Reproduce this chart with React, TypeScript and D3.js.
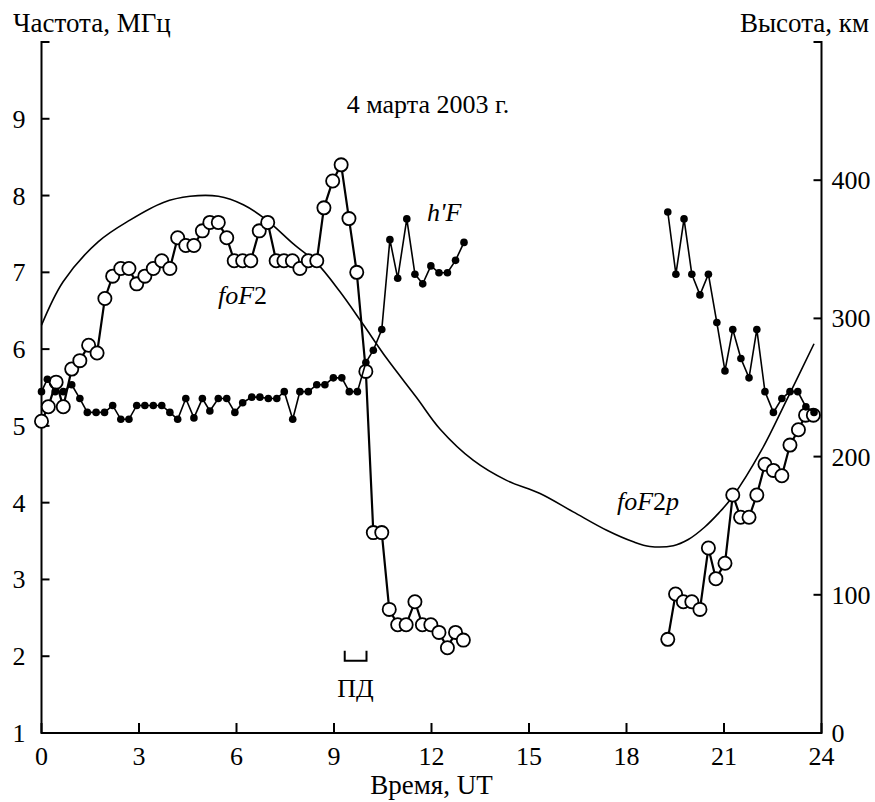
import * as d3 from "d3"

// foF2, first part of the day (UT hours, MHz)
const fof2HoursA = [0, 0.21, 0.45, 0.67, 0.93, 1.18, 1.45, 1.71, 1.95, 2.19, 2.44, 2.69, 2.93, 3.18, 3.44, 3.70, 3.95, 4.19, 4.44, 4.69, 4.95, 5.18, 5.44, 5.70, 5.93, 6.19, 6.44, 6.70, 6.96, 7.22, 7.46, 7.72, 7.95, 8.21, 8.47, 8.69, 8.96, 9.22, 9.46, 9.70, 9.98, 10.21, 10.47, 10.70, 10.96, 11.22, 11.49, 11.72, 11.98, 12.23, 12.49, 12.74, 12.98]
const fof2ValuesA = [5.06, 5.25, 5.57, 5.25, 5.74, 5.85, 6.05, 5.95, 6.66, 6.95, 7.05, 7.05, 6.85, 6.95, 7.05, 7.15, 7.05, 7.45, 7.35, 7.35, 7.54, 7.65, 7.65, 7.45, 7.15, 7.15, 7.15, 7.54, 7.65, 7.15, 7.15, 7.15, 7.05, 7.15, 7.15, 7.84, 8.19, 8.40, 7.70, 7.00, 5.71, 3.61, 3.61, 2.61, 2.41, 2.41, 2.71, 2.41, 2.41, 2.31, 2.11, 2.31, 2.21]
// foF2, evening part
const fof2HoursB = [19.27, 19.51, 19.75, 20.01, 20.26, 20.52, 20.75, 21.03, 21.27, 21.51, 21.77, 22.01, 22.26, 22.52, 22.78, 23.03, 23.29, 23.51, 23.75]
const fof2ValuesB = [2.22, 2.81, 2.71, 2.71, 2.61, 3.41, 3.01, 3.21, 4.10, 3.81, 3.81, 4.10, 4.50, 4.42, 4.35, 4.75, 4.95, 5.14, 5.14]

// h'F (km)
const hfHoursA = [0, 0.18, 0.42, 0.67, 0.93, 1.18, 1.41, 1.68, 1.94, 2.19, 2.44, 2.69, 2.93, 3.18, 3.44, 3.70, 3.95, 4.19, 4.44, 4.69, 4.95, 5.18, 5.44, 5.70, 5.95, 6.19, 6.47, 6.72, 6.98, 7.24, 7.47, 7.73, 7.95, 8.21, 8.47, 8.72, 8.98, 9.24, 9.47, 9.72, 9.98, 10.21, 10.47, 10.72, 10.96, 11.24, 11.49, 11.73, 11.98, 12.23, 12.49, 12.74, 13.00]
const hfValuesA = [247, 256, 247, 247, 252, 242, 232, 232, 232, 237, 227, 227, 237, 237, 237, 237, 232, 227, 242, 228, 242, 233, 242, 242, 232, 239, 243, 243, 242, 242, 247, 227, 247, 247, 252, 252, 257, 257, 247, 247, 268, 277, 292, 357, 329, 372, 332, 325, 338, 333, 333, 342, 355]
const hfHoursB = [19.27, 19.52, 19.77, 20.01, 20.26, 20.52, 20.78, 21.03, 21.27, 21.52, 21.77, 22.01, 22.26, 22.52, 22.78, 23.03, 23.27, 23.52, 23.77]
const hfValuesB = [377, 332, 372, 332, 317, 332, 297, 262, 292, 271, 257, 292, 247, 232, 242, 247, 247, 236, 232]

// foF2p model curve
const fof2pHours = [0, 0.67, 1.75, 2.72, 3.75, 4.57, 5.44, 6.21, 6.93, 7.75, 8.47, 9.18, 9.90, 10.62, 11.54, 12.26, 13.29, 14.31, 15.34, 16.36, 17.39, 18.21, 18.72, 19.44, 19.9, 20.4, 20.85, 21.27, 22.15, 22.93, 23.77]
const fof2pValues = [6.31, 6.88, 7.40, 7.68, 7.91, 7.99, 7.99, 7.88, 7.68, 7.37, 7.12, 6.75, 6.32, 5.88, 5.37, 4.96, 4.55, 4.29, 4.12, 3.88, 3.64, 3.49, 3.43, 3.44, 3.52, 3.68, 3.87, 4.08, 4.68, 5.34, 6.07]

const hourTicks = [0, 3, 6, 9, 12, 15, 18, 21, 24]
const freqTicks = [1, 2, 3, 4, 5, 6, 7, 8, 9]
const heightTicks = [0, 100, 200, 300, 400]
const pdInterval = [9.33, 10.0]

const FONT = "Liberation Serif"

const x = d3.scaleLinear().domain([0, 24]).range([41.5, 821.5])
const yF = d3.scaleLinear().domain([1, 10]).range([733, 42])
const yH = d3.scaleLinear().domain([0, 500]).range([733, 42])

export default function App() {
    const top = yF(10)
    const bottom = yF(1)
    const left = x(0)
    const right = x(24)

    const lineP = d3.line<number>()
        .x((_, i) => x(fof2pHours[i]))
        .y(d => yF(d))
        .curve(d3.curveCatmullRom.alpha(0.5))

    const fof2Parts = [[fof2HoursA, fof2ValuesA], [fof2HoursB, fof2ValuesB]]
    const hfParts = [[hfHoursA, hfValuesA], [hfHoursB, hfValuesB]]
    const pdY = yF(1.94)

    return (
        <svg width={875} height={802}
            style={{ position: "absolute", left: 0, top: 0, background: "#fff" }}>
            <g fontFamily={FONT} fontSize={26} fill="#000">
                {/* frame */}
                <path d={`M${left + 8},${top}H${left}V${bottom}H${right}V${top}H${right - 8}`}
                    stroke="#000" strokeWidth={2} fill="none" />

                {/* left axis */}
                {freqTicks.map(v => (
                    <g key={"f" + v}>
                        <line x1={left} x2={left + 8} y1={yF(v)} y2={yF(v)} stroke="#000" strokeWidth={2} />
                        <text x={left - 16} y={yF(v) + 9}
                            fontFamily={FONT} textAnchor="end">{v}</text>
                    </g>
                ))}
                {/* right axis */}
                {heightTicks.map(v => (
                    <g key={"h" + v}>
                        <line x1={right - 8} x2={right} y1={yH(v)} y2={yH(v)} stroke="#000" strokeWidth={2} />
                        <text x={right + 10} y={yH(v) + 9} fontFamily={FONT}>{v}</text>
                    </g>
                ))}
                {/* bottom axis */}
                {hourTicks.map(v => (
                    <g key={"t" + v}>
                        <line x1={x(v)} x2={x(v)} y1={bottom - 10} y2={bottom} stroke="#000" strokeWidth={2} />
                        <text x={x(v)} y={bottom + 32} fontFamily={FONT} textAnchor="middle">{v}</text>
                    </g>
                ))}

                {/* titles */}
                <text x={13} y={32} fontFamily={FONT} fontSize={27}>Частота, МГц</text>
                <text x={869} y={32} fontFamily={FONT} fontSize={27} textAnchor="end">Высота, км</text>
                <text x={x(12)} y={794} fontFamily={FONT} fontSize={27} textAnchor="middle">Время, UT</text>
                <text x={428} y={113} fontFamily={FONT} textAnchor="middle">4 марта 2003 г.</text>

                {/* foF2p model */}
                <path d={lineP(fof2pValues) ?? ""} fill="none" stroke="#000" strokeWidth={1.6} />

                {/* foF2 */}
                {fof2Parts.map(([hours, vals], k) => (
                    <path key={"fl" + k} fill="none" stroke="#000" strokeWidth={2.2}
                        d={d3.line<number>().x((_, i) => x(hours[i])).y(d => yF(d))(vals) ?? ""} />
                ))}
                {fof2Parts.map(([hours, vals], k) => (
                    <g key={"fc" + k}>
                        {vals.map((v, i) => (
                            <circle key={i} cx={x(hours[i])} cy={yF(v)} r={6.6}
                                fill="#fff" stroke="#000" strokeWidth={1.8} />
                        ))}
                    </g>
                ))}

                {/* h'F */}
                {hfParts.map(([hours, vals], k) => (
                    <g key={"h" + k}>
                        <path fill="none" stroke="#000" strokeWidth={1.6}
                            d={d3.line<number>().x((_, i) => x(hours[i])).y(d => yH(d))(vals) ?? ""} />
                        {vals.map((v, i) => (
                            <circle key={i} cx={x(hours[i])} cy={yH(v)} r={3.8} fill="#000" />
                        ))}
                    </g>
                ))}

                {/* curve labels */}
                <text x={218} y={304} fontFamily={FONT}>
                    <tspan fontStyle="italic">foF</tspan><tspan>2</tspan>
                </text>
                <text x={427} y={221} fontFamily={FONT} fontStyle="italic">h'F</text>
                <text x={617} y={510} fontFamily={FONT}>
                    <tspan fontStyle="italic">foF</tspan><tspan>2</tspan><tspan fontStyle="italic">p</tspan>
                </text>

                {/* ПД marker */}
                <path d={`M${x(pdInterval[0])},${pdY - 10}V${pdY}H${x(pdInterval[1])}V${pdY - 10}`}
                    fill="none" stroke="#000" strokeWidth={2} />
                <text x={x((pdInterval[0] + pdInterval[1]) / 2)} y={697} fontFamily={FONT} textAnchor="middle">ПД</text>
            </g>
        </svg>
    )
}
